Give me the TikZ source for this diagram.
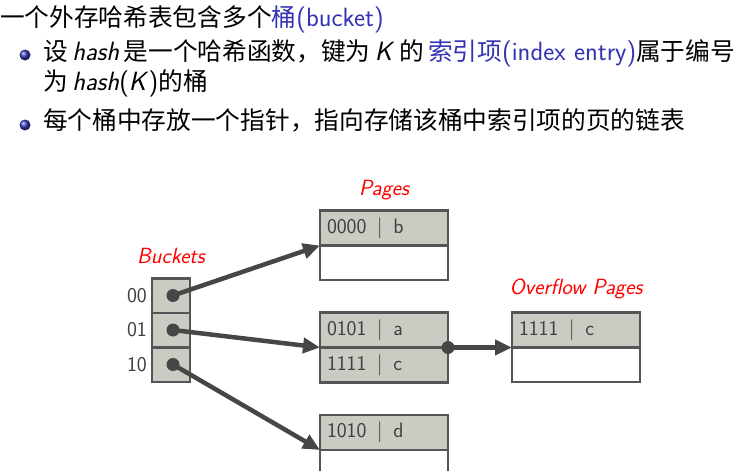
\documentclass[tikz,border=0pt]{standalone}
\usepackage{fontspec}
\newfontfamily\cjk{Noto Sans CJK SC}[Scale=0.935]
\usetikzlibrary{positioning,arrows.meta}

\definecolor{bblue}{RGB}{51,51,179}
\definecolor{cellfill}{RGB}{200,204,195}
\definecolor{edgegray}{RGB}{85,85,85}
\definecolor{ptrgray}{RGB}{70,70,70}
\definecolor{celltext}{RGB}{64,64,64}

\newcommand{\cellfont}{\fontsize{21}{24}\selectfont\sffamily}
\newcommand{\headfont}{\fontsize{26.4}{30}\selectfont\sffamily}

\tikzset{
  box/.style={rectangle, draw=edgegray, line width=2.5pt, fill=cellfill,
    minimum height=34.5pt, outer sep=0pt, text=celltext, font=\cellfont},
  cell/.style={box, minimum width=128pt, text width=114pt, inner sep=7pt, align=left},
  freecell/.style={cell, fill=white},
  bucketcell/.style={box, minimum width=38pt, inner sep=0pt},
  tag/.style={inner sep=0pt, text=red, font=\fontsize{22}{26}\selectfont\sffamily\itshape},
  hashlbl/.style={inner sep=2pt, text=celltext, font=\cellfont},
  ptr/.style={draw=ptrgray, line width=4.5pt, -{Triangle[length=17pt,width=15pt]}},
  bulletball/.style={circle, inner sep=0pt, minimum size=11pt, ball color=bblue},
  line/.style={anchor=base west, inner sep=0pt, font=\headfont}
}

\begin{document}
\begin{tikzpicture}[x=1pt, y=-1pt]
\useasboundingbox (0,0) rectangle (750,471);

% text above the figure
\node[line] (title) at (0,27) {{\cjk 一个外存哈希表包含多个}\textcolor{bblue}{{\cjk 桶}(bucket)}};
\node[bulletball] (ball1) at (25,55) {};
\node[line] (itemone) at (43,60) {{\cjk 设}\,\textit{hash}\,{\cjk 是一个哈希函数，键为}\,\textit{K}\,{\cjk 的}\,\textcolor{bblue}{{\cjk 索引项}(index entry)}{\cjk 属于编号}};
\node[line] (itemonemore) at (43,90) {{\cjk 为}\,\textit{hash}(\textit{K}){\cjk 的桶}};
\node[bulletball] (ball2) at (25,125) {};
\node[line] (itemtwo) at (43,129) {{\cjk 每个桶中存放一个指针，指向存储该桶中索引项的页的链表}};

% buckets
\node[bucketcell] (b00) at (171,295.5) {};
\node[bucketcell, below=0pt of b00] (b01) {};
\node[bucketcell, below=0pt of b01] (b10) {};
\node[hashlbl, left=3pt of b00] (l00) {00};
\node[hashlbl, left=3pt of b01] (l01) {01};
\node[hashlbl, left=3pt of b10] (l10) {10};
\node[tag, above=14pt of b00] (bucketstag) {Buckets};

% pages
\node[cell] (p1a) at (384,228) {0000\enspace|\enspace b};
\node[freecell, below=0pt of p1a] (p1b) {};
\node[cell] (p2a) at (384,330) {0101\enspace|\enspace a};
\node[cell, below=0pt of p2a] (p2b) {1111\enspace|\enspace c};
\node[cell] (p3a) at (384,432.5) {1010\enspace|\enspace d};
\node[freecell, below=0pt of p3a] (p3b) {};
\node[tag, above=10pt of p1a] (pagestag) {Pages};

% overflow
\node[cell] (ofa) at (576,330) {1111\enspace|\enspace c};
\node[freecell, below=0pt of ofa] (ofb) {};
\node[tag, above=13pt of ofa] (overflowtag) {Overflow Pages};

% pointers
\draw[ptr] ([xshift=2pt]b00.center) -- (p1a.south west);
\draw[ptr] ([xshift=2pt]b01.center) -- (p2a.south west);
\draw[ptr] ([xshift=2pt]b10.center) -- (p3a.south west);
\draw[ptr] (p2a.south east) -- (ofa.south west);
\fill[ptrgray] ([xshift=2pt]b00.center) circle (6.5pt);
\fill[ptrgray] ([xshift=2pt]b01.center) circle (6.5pt);
\fill[ptrgray] ([xshift=2pt]b10.center) circle (6.5pt);
\fill[ptrgray] (p2a.south east) circle (6.5pt);
\end{tikzpicture}
\end{document}
